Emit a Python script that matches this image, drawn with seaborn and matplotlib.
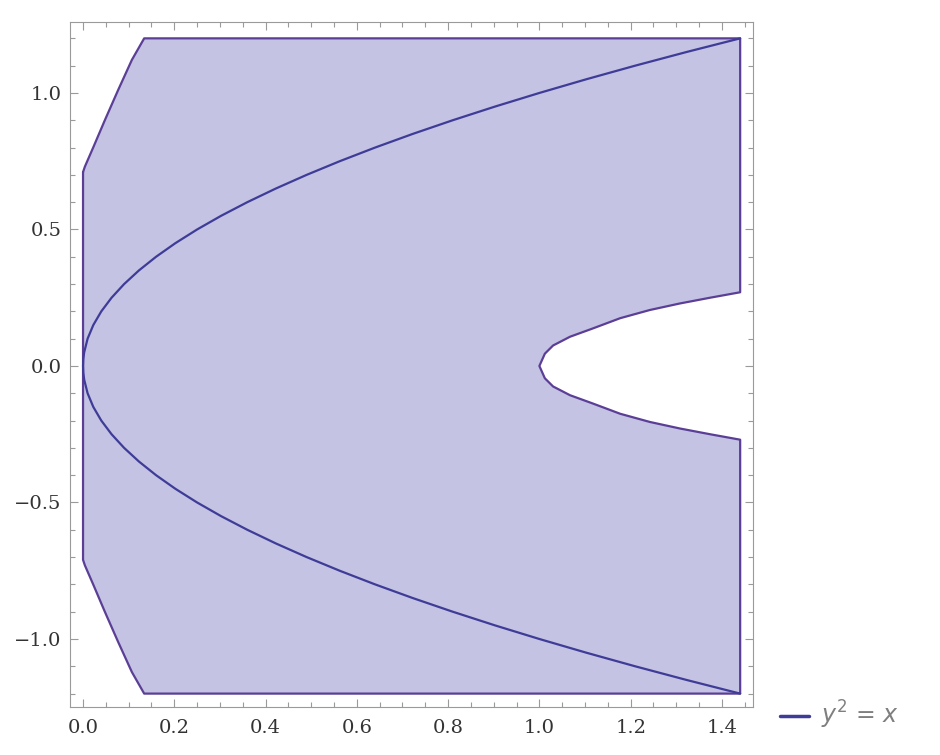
import pandas as pd
import matplotlib
matplotlib.use("Agg")
import matplotlib.pyplot as plt
from matplotlib.ticker import MultipleLocator
import seaborn as sns

# Region boundary, upper half only; lower half is the mirror
left_x = [0.134, 0.107, 0.077, 0.048, 0.023, 0.004, 0.0]     # upper-left edge, top -> bottom
left_y = [1.2, 1.121, 1.011, 0.901, 0.803, 0.730, 0.71]
hole_x = [1.44, 1.374, 1.308, 1.242, 1.177, 1.118, 1.067, 1.03, 1.012, 1.0]  # notch, right -> vertex
hole_y = [0.27, 0.250, 0.229, 0.205, 0.175, 0.138, 0.107, 0.075, 0.045, 0.0]

# Parabola y^2 = x, upper branch (mirrored for the lower one)
parab_y = [0.0, 0.025, 0.05, 0.1, 0.15, 0.2, 0.25, 0.3, 0.35, 0.4, 0.45, 0.5, 0.55,
           0.6, 0.65, 0.7, 0.75, 0.8, 0.85, 0.9, 0.95, 1.0, 1.05, 1.1, 1.15, 1.2]
parab_x = [0.0, 0.000625, 0.0025, 0.01, 0.0225, 0.04, 0.0625, 0.09, 0.1225, 0.16,
           0.2025, 0.25, 0.3025, 0.36, 0.4225, 0.49, 0.5625, 0.64, 0.7225, 0.81,
           0.9025, 1.0, 1.1025, 1.21, 1.3225, 1.44]

fill_col = "#c4c3e3"
edge_col = "#5b3f96"
line_col = "#3f3c98"
axis_col = "#9a9a9a"

sns.set_style("ticks")
plt.rcParams["font.family"] = ["DejaVu Serif"]

# closed outline: left curve up, top edge, notch, bottom edge, left curve up again
outline_x = (left_x[::-1] + [1.44] + hole_x + hole_x[-2::-1] + [1.44] + left_x)
outline_y = (left_y[::-1] + [1.2] + hole_y + [-v for v in hole_y[-2::-1]]
             + [-1.2] + [-v for v in left_y])
outline = pd.DataFrame({"x": outline_x + outline_x[:1], "y": outline_y + outline_y[:1]})

curve = pd.DataFrame({"x": parab_x[::-1] + parab_x[1:],
                      "y": [-v for v in parab_y[::-1]] + parab_y[1:]})

fig = plt.figure(figsize=(9.4, 7.55), dpi=100)
ax = fig.add_axes([0.0745, 0.0636, 0.7265, 0.9073])

ax.fill(outline["x"], outline["y"], color=fill_col, lw=0, zorder=1)
sns.lineplot(data=outline, x="x", y="y", sort=False, estimator=None,
             color=edge_col, lw=1.6, ax=ax, zorder=2)
sns.lineplot(data=curve, x="x", y="y", sort=False, estimator=None,
             color=line_col, lw=1.6, ax=ax, zorder=3, label=r"$y^2$ = $x$")

ax.set_xlim(-0.0285, 1.468)
ax.set_ylim(-1.249, 1.26)
ax.set_xlabel("")
ax.set_ylabel("")
ax.xaxis.set_major_locator(MultipleLocator(0.2))
ax.xaxis.set_minor_locator(MultipleLocator(0.05))
ax.yaxis.set_major_locator(MultipleLocator(0.5))
ax.yaxis.set_minor_locator(MultipleLocator(0.1))
ax.xaxis.set_major_formatter(lambda v, p: f"{v:.1f}")
ax.yaxis.set_major_formatter(lambda v, p: f"{v:.1f}".replace("-", "\u2212"))
ax.tick_params(which="both", direction="in", top=True, right=True, color=axis_col,
               labelsize=14, labelcolor="#333333", width=0.8)
ax.tick_params(which="major", length=6)
ax.tick_params(which="minor", length=3.5)
ax.tick_params(axis="x", which="major", pad=9)
ax.tick_params(axis="y", which="major", pad=6)
for s in ax.spines.values():
    s.set_color(axis_col)
    s.set_linewidth(0.8)

leg = ax.legend(loc="center left", bbox_to_anchor=(1.008, -0.012), frameon=False,
                fontsize=17, handlelength=1.25, handletextpad=0.5, labelcolor="#7f7f7f")
for h in leg.get_lines():
    h.set_linewidth(2.5)

fig.savefig("out.png", dpi=100)
